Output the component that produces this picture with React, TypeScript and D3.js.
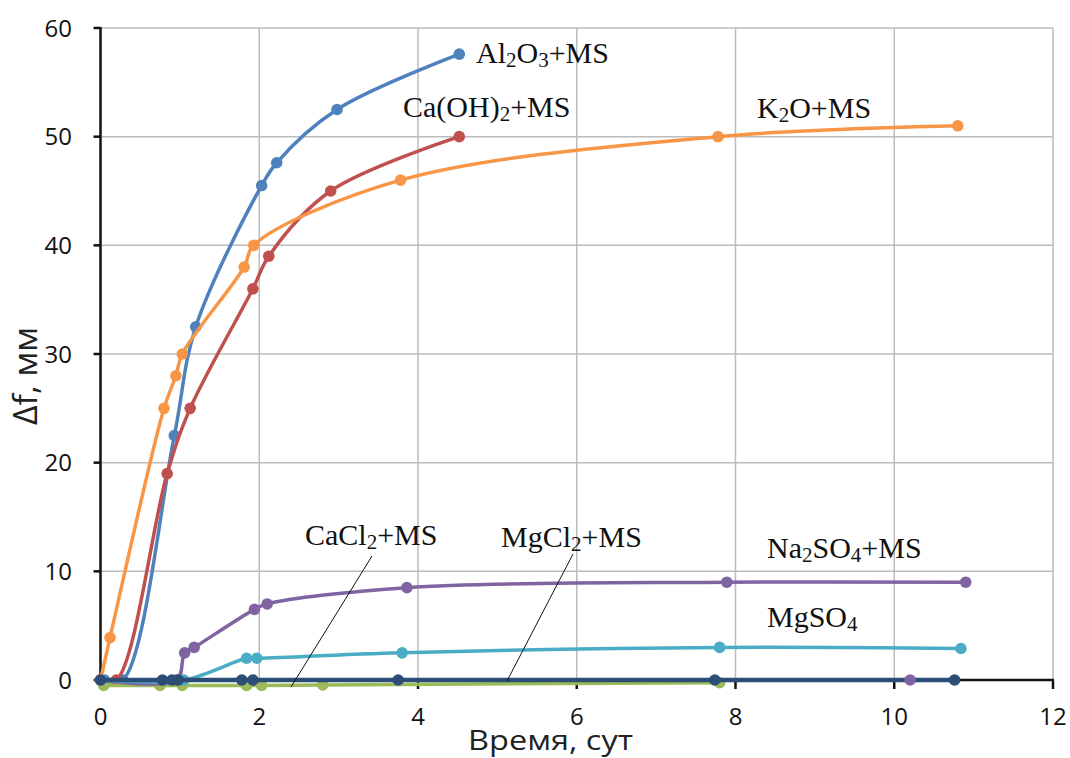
import React from "react";
import * as d3 from "d3";

const W = 1070;
const H = 758;

const xTicks = [0, 2, 4, 6, 8, 10, 12];
const yTicks = [0, 10, 20, 30, 40, 50, 60];

const al2o3: [number, number][] = [[0.05, 0], [0.28, 0], [0.93, 22.5], [1.2, 32.5], [2.03, 45.5], [2.22, 47.6], [2.98, 52.5], [4.52, 57.6]];
const caoh2: [number, number][] = [[0, 0], [0.2, 0], [0.84, 19], [1.13, 25], [1.92, 36], [2.12, 39], [2.9, 45], [4.52, 50]];
const cacl2: [number, number][] = [[0.04, -0.5], [0.75, -0.5], [1.03, -0.5], [1.84, -0.5], [2.03, -0.5], [2.8, -0.45], [7.8, -0.25]];
const na2so4: [number, number][] = [[0, 0], [0.96, 0], [1.06, 2.5], [1.18, 3], [1.94, 6.5], [2.1, 7], [3.86, 8.5], [7.89, 9], [10.9, 9]];
const mgso4: [number, number][] = [[0, 0], [1.05, 0], [1.84, 2], [1.97, 2], [3.8, 2.5], [7.8, 3], [10.84, 2.9]];
const k2o: [number, number][] = [[0, 0], [0.12, 3.9], [0.8, 25], [0.95, 28], [1.03, 30], [1.81, 38], [1.93, 40], [3.78, 46], [7.78, 50], [10.8, 51]];
const mgcl2: [number, number][] = [[0, 0], [0.78, 0], [0.9, 0], [0.98, 0], [1.78, 0], [1.92, 0], [3.75, 0], [7.74, 0], [10.76, 0]];
const extra: [number, number][] = [[10.2, 0]];

const series = [
  { name: "Al2O3+MS", data: al2o3, color: "#4f81bd", width: 3.5, smooth: true },
  { name: "Ca(OH)2+MS", data: caoh2, color: "#c0504d", width: 3.5, smooth: true },
  { name: "CaCl2+MS", data: cacl2, color: "#9bbb59", width: 3.5, smooth: true },
  { name: "Na2SO4+MS", data: na2so4, color: "#8064a2", width: 3.5, smooth: true },
  { name: "MgSO4", data: mgso4, color: "#4bacc6", width: 3.5, smooth: true },
  { name: "K2O+MS", data: k2o, color: "#f79646", width: 3.5, smooth: true },
  { name: "MgCl2+MS", data: mgcl2, color: "#2c4d75", width: 4.5, smooth: false },
  { name: "extra", data: extra, color: "#8064a2", width: 3.5, smooth: false },
];

export default function App() {
  const x = d3.scaleLinear().domain([0, 12]).range([100.5, 1053]);
  const y = d3.scaleLinear().domain([0, 60]).range([680, 28]);

  const lineSmooth = d3
    .line<[number, number]>()
    .x((d) => x(d[0]))
    .y((d) => y(d[1]))
    .curve(d3.curveCatmullRom.alpha(0.5));
  const lineStraight = d3
    .line<[number, number]>()
    .x((d) => x(d[0]))
    .y((d) => y(d[1]));

  const serif = "'Liberation Serif', 'Times New Roman', serif";
  const sans = "'Open Sans', 'Liberation Sans', sans-serif";

  const label = (
    xx: number,
    yy: number,
    parts: { t: string; sub?: boolean }[]
  ) => (
    <text x={xx} y={yy} fontFamily={serif} fontSize={30} fill="#111">
      {parts.map((p, i) =>
        p.sub ? (
          <tspan key={i} fontSize={21} dy={4}>
            {p.t}
          </tspan>
        ) : (
          <tspan key={i} dy={i > 0 && parts[i - 1].sub ? -4 : 0}>
            {p.t}
          </tspan>
        )
      )}
    </text>
  );

  return (
    <svg
      width={W}
      height={H}
      style={{ position: "absolute", left: 0, top: 0, background: "#fff" }}
    >
      <rect width={W} height={H} fill="#fff" />
      {xTicks.slice(1).map((t) => (
        <line key={"gx" + t} x1={x(t)} x2={x(t)} y1={y(60)} y2={y(0)} stroke="#bcbcbc" strokeWidth={1.5} />
      ))}
      {yTicks.slice(1).map((t) => (
        <line key={"gy" + t} x1={x(0)} x2={x(12)} y1={y(t)} y2={y(t)} stroke="#bcbcbc" strokeWidth={1.5} />
      ))}
      <line x1={x(0)} x2={x(0)} y1={y(60) - 1} y2={y(0) + 1} stroke="#111" strokeWidth={2.5} />
      <line x1={x(0) - 1} x2={x(12) + 1} y1={y(0)} y2={y(0)} stroke="#111" strokeWidth={2.5} />
      {yTicks.map((t) => (
        <line key={"ty" + t} x1={x(0) - 7} x2={x(0)} y1={y(t)} y2={y(t)} stroke="#111" strokeWidth={2.5} />
      ))}
      {xTicks.map((t) => (
        <line key={"tx" + t} x1={x(t)} x2={x(t)} y1={y(0)} y2={y(0) + 9} stroke="#111" strokeWidth={2.5} />
      ))}
      {yTicks.map((t) => (
        <text key={"ly" + t} x={72} y={y(t) + 8.5} textAnchor="end" fontFamily={sans} fontSize={24} fill="#111">
          {t}
        </text>
      ))}
      {xTicks.map((t) => (
        <text key={"lx" + t} x={x(t)} y={725} textAnchor="middle" fontFamily={sans} fontSize={24} fill="#111">
          {t}
        </text>
      ))}
      <text
        x={468}
        y={750}
        fontFamily={sans}
        fontSize={27}
        fill="#222"
        textLength={165}
        lengthAdjust="spacingAndGlyphs"
      >
        Время, сут
      </text>
      <text
        transform="translate(37,425) rotate(-90)"
        x={0}
        y={0}
        fontFamily={sans}
        fontSize={33}
        fill="#222"
        textLength={98}
        lengthAdjust="spacingAndGlyphs"
      >
        Δf, мм
      </text>
      {series.map((s) => (
        <g key={s.name}>
          {s.data.length > 1 && (
            <path
              d={(s.smooth ? lineSmooth : lineStraight)(s.data) || ""}
              fill="none"
              stroke={s.color}
              strokeWidth={s.width}
              strokeLinejoin="round"
              strokeLinecap="round"
            />
          )}
          {s.data.map((d, i) => (
            <circle key={i} cx={x(d[0])} cy={y(d[1])} r={5.8} fill={s.color} />
          ))}
        </g>
      ))}
      <line x1={372} y1={556} x2={291} y2={687} stroke="#111" strokeWidth={1} />
      <line x1={573} y1={554} x2={507} y2={681} stroke="#111" strokeWidth={1} />
      {label(476, 63, [{ t: "Al" }, { t: "2", sub: true }, { t: "O" }, { t: "3", sub: true }, { t: "+MS" }])}
      {label(403, 117, [{ t: "Ca(OH)" }, { t: "2", sub: true }, { t: "+MS" }])}
      {label(757, 118, [{ t: "K" }, { t: "2", sub: true }, { t: "O+MS" }])}
      {label(305, 545, [{ t: "CaCl" }, { t: "2", sub: true }, { t: "+MS" }])}
      {label(501, 547, [{ t: "MgCl" }, { t: "2", sub: true }, { t: "+MS" }])}
      {label(767, 558, [{ t: "Na" }, { t: "2", sub: true }, { t: "SO" }, { t: "4", sub: true }, { t: "+MS" }])}
      {label(767, 627, [{ t: "MgSO" }, { t: "4", sub: true }])}
    </svg>
  );
}
